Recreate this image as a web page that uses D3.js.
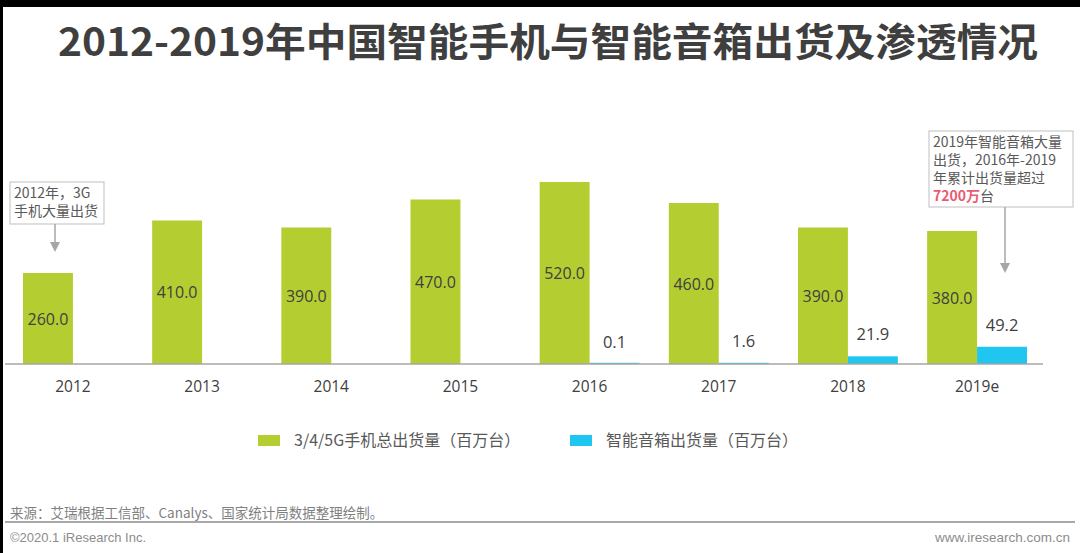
<!DOCTYPE html>
<html>
<head>
<meta charset="utf-8">
<script src="https://cdn.jsdelivr.net/npm/d3@7/dist/d3.min.js"></script>
<style>
  body { margin: 0; background: #fff; }
  .canva { width: 1080px; height: 553px; overflow: hidden; }
</style>
</head>
<body>
<div class="canva"></div>
<script>
// data
const years = ['2012', '2013', '2014', '2015', '2016', '2017', '2018', '2019e']
const phones = [260, 410, 390, 470, 520, 460, 390, 380]
const speakers = [null, null, null, null, 0.1, 1.6, 21.9, 49.2]
const seriesNames = ['3/4/5G手机总出货量（百万台）', '智能音箱出货量（百万台）']
const colors = ['#b4ce31', '#1fc6f0']

const font = '"Noto Sans CJK SC", "Open Sans", sans-serif'

const svg = d3.select('.canva').append('svg')
              .attr('width', 1080)
              .attr('height', 553)
              .style('font-family', font)

// black frame edges from the screenshot
svg.append('rect').attr('x', 0).attr('y', 0).attr('width', 1080).attr('height', 7).attr('fill', '#000')
svg.append('rect').attr('x', 0).attr('y', 0).attr('width', 3).attr('height', 553).attr('fill', '#000')

// title
svg.append('text')
   .attr('x', 548).attr('y', 56)
   .attr('text-anchor', 'middle')
   .attr('font-size', 39)
   .attr('font-weight', 'bold')
   .attr('fill', '#3f3f3f')
   .attr('textLength', 980)
   .attr('lengthAdjust', 'spacingAndGlyphs')
   .text('2012-2019年中国智能手机与智能音箱出货及渗透情况')

const baseY = 364

const x = d3.scaleBand()
            .domain(years)
            .range([23, 1027])
            .paddingInner(0.227)

const y = d3.scaleLinear()
            .domain([0, 520])
            .range([baseY, 182])

const bw = x.bandwidth() / 2

// phone bars
const g = svg.append('g')
g.selectAll('.phone')
 .data(phones)
 .enter()
 .append('rect')
 .attr('x', (d, i) => x(years[i]))
 .attr('y', d => y(d))
 .attr('width', bw)
 .attr('height', d => baseY - y(d))
 .attr('fill', colors[0])

g.selectAll('.phoneLabel')
 .data(phones)
 .enter()
 .append('text')
 .attr('x', (d, i) => x(years[i]) + bw / 2)
 .attr('y', d => (y(d) + baseY) / 2 + 6)
 .attr('text-anchor', 'middle')
 .attr('font-family', '"Open Sans", sans-serif')
 .attr('font-size', 16)
 .attr('fill', '#404040')
 .text(d => d.toFixed(1))

// speaker bars
const spk = speakers.map((v, i) => ({ v, year: years[i] })).filter(d => d.v !== null)
g.selectAll('.speaker')
 .data(spk)
 .enter()
 .append('rect')
 .attr('x', d => x(d.year) + bw)
 .attr('y', d => Math.min(y(d.v), baseY - 1.2))
 .attr('width', bw)
 .attr('height', d => Math.max(baseY - y(d.v), 1.2))
 .attr('fill', colors[1])

g.selectAll('.speakerLabel')
 .data(spk)
 .enter()
 .append('text')
 .attr('x', d => x(d.year) + bw * 1.5)
 .attr('y', d => y(d.v) - 16)
 .attr('text-anchor', 'middle')
 .attr('font-family', '"Open Sans", sans-serif')
 .attr('font-size', 16.5)
 .attr('fill', '#404040')
 .text(d => d.v.toFixed(1))

// axis
const xAxis = d3.axisBottom(x).tickSize(0).tickPadding(17)
const ax = svg.append('g')
              .attr('transform', `translate(0,${baseY})`)
              .call(xAxis)
ax.select('.domain').remove()
ax.selectAll('text')
  .attr('font-family', '"Open Sans", sans-serif')
  .attr('font-size', 15.5)
  .attr('fill', '#404040')
svg.append('line')
   .attr('x1', 5).attr('x2', 1043)
   .attr('y1', baseY).attr('y2', baseY)
   .attr('stroke', '#a6a6a6')
   .attr('stroke-width', 1.5)

// legend
const legend = svg.append('g')
const legX = [258, 570]
seriesNames.forEach((name, i) => {
  legend.append('rect')
        .attr('x', legX[i]).attr('y', 435)
        .attr('width', 22).attr('height', 11)
        .attr('fill', colors[i])
  legend.append('text')
        .attr('x', legX[i] + 36).attr('y', 446)
        .attr('font-size', 16)
        .attr('fill', '#595959')
        .text(name)
})

// annotations
const grayLine = '#bfbfbf'
svg.append('defs').append('marker')
   .attr('id', 'arr')
   .attr('viewBox', '0 0 10 10')
   .attr('refX', 5).attr('refY', 5)
   .attr('markerWidth', 10).attr('markerHeight', 10)
   .attr('markerUnits', 'userSpaceOnUse')
   .attr('orient', 'auto')
   .append('path')
   .attr('d', 'M0,0 L10,5 L0,10 Z')
   .attr('fill', '#a6a6a6')

function note(bx, by, w, h, lines, lh, ax1, ay1, ay2) {
  svg.append('rect')
     .attr('x', bx).attr('y', by)
     .attr('width', w).attr('height', h)
     .attr('fill', '#fff')
     .attr('stroke', grayLine)
  lines.forEach((ln, i) => {
    const t = svg.append('text')
                 .attr('x', bx + 4).attr('y', by + lh - 2 + i * lh)
                 .attr('font-size', 14)
                 .attr('fill', '#595959')
    ln.forEach(part => {
      t.append('tspan')
       .attr('fill', part.red ? '#eb5a72' : '#595959')
       .attr('font-weight', part.red ? 'bold' : 'normal')
       .text(part.t)
    })
  })
  svg.append('line')
     .attr('x1', ax1).attr('x2', ax1)
     .attr('y1', ay1).attr('y2', ay2 - 5)
     .attr('stroke', '#a6a6a6')
     .attr('stroke-width', 1.5)
     .attr('marker-end', 'url(#arr)')
}

note(10, 182, 94, 42,
     [[{ t: '2012年，3G' }], [{ t: '手机大量出货' }]], 18,
     55, 224, 252)

note(929, 131, 144, 76,
     [[{ t: '2019年智能音箱大量' }], [{ t: '出货，2016年-2019' }], [{ t: '年累计出货量超过' }],
      [{ t: '7200万', red: true }, { t: '台' }]], 18,
     1005, 207, 273)

// footer
svg.append('text')
   .attr('x', 10).attr('y', 518)
   .attr('font-size', 13.5)
   .attr('fill', '#7f7f7f')
   .text('来源：艾瑞根据工信部、Canalys、国家统计局数据整理绘制。')
svg.append('line')
   .attr('x1', 5).attr('x2', 1075)
   .attr('y1', 522).attr('y2', 522)
   .attr('stroke', '#8c8c8c')
   .attr('stroke-width', 1.5)
svg.append('text')
   .attr('x', 10).attr('y', 542)
   .attr('font-family', '"Liberation Sans", Arial, sans-serif')
   .attr('font-size', 13)
   .attr('fill', '#8c8c8c')
   .text('©2020.1 iResearch Inc.')
svg.append('text')
   .attr('x', 1070).attr('y', 542)
   .attr('text-anchor', 'end')
   .attr('font-family', '"Liberation Sans", Arial, sans-serif')
   .attr('font-size', 13.5)
   .attr('fill', '#8c8c8c')
   .text('www.iresearch.com.cn')
</script>
</body>
</html>
